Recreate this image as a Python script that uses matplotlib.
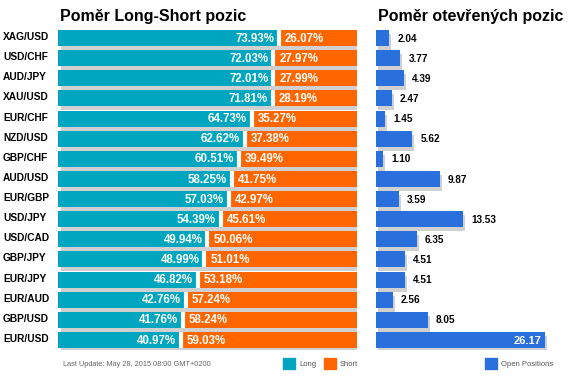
import matplotlib
matplotlib.use("Agg")
import matplotlib.pyplot as plt
from matplotlib.transforms import ScaledTranslation
from matplotlib.patches import Rectangle

pairs = ["XAG/USD", "USD/CHF", "AUD/JPY", "XAU/USD", "EUR/CHF", "NZD/USD", "GBP/CHF",
         "AUD/USD", "EUR/GBP", "USD/JPY", "USD/CAD", "GBP/JPY", "EUR/JPY", "EUR/AUD",
         "GBP/USD", "EUR/USD"]
long_pct = [73.93, 72.03, 72.01, 71.81, 64.73, 62.62, 60.51, 58.25, 57.03, 54.39,
            49.94, 48.99, 46.82, 42.76, 41.76, 40.97]
short_pct = [26.07, 27.97, 27.99, 28.19, 35.27, 37.38, 39.49, 41.75, 42.97, 45.61,
             50.06, 51.01, 53.18, 57.24, 58.24, 59.03]
open_pos = [2.04, 3.77, 4.39, 2.47, 1.45, 5.62, 1.10, 9.87, 3.59, 13.53, 6.35, 4.51,
            4.51, 2.56, 8.05, 26.17]

TEAL = "#00A6BF"
ORANGE = "#FF6600"
BLUE = "#2A70DC"
SHADOW = "#D0D0D0"
FONT = "Liberation Sans"
plt.rcParams["font.family"] = [FONT, "DejaVu Sans"]

W, H = 577, 391
fig = plt.figure(figsize=(W / 100, H / 100), dpi=100)

def px_axes(x0, y0, x1, y1):
    return fig.add_axes([x0 / W, 1 - y1 / H, (x1 - x0) / W, (y1 - y0) / H])

top, bottom = 28, 350
n = len(pairs)
ys = list(range(n))
bh = 0.8

# Left panel
ax = px_axes(58, top, 357, bottom)
ax.set_xlim(0, 100)
ax.set_ylim(n - 0.5, -0.5)
ax.axis("off")
sh = ax.transData + ScaledTranslation(3 / 100, -4 / 100, fig.dpi_scale_trans)
totals = [l + s for l, s in zip(long_pct, short_pct)]
ax.barh(ys, totals, height=bh, color=SHADOW, transform=sh, zorder=1)
ax.barh(ys, long_pct, height=bh, color=TEAL, linewidth=0, zorder=2)
ax.barh(ys, short_pct, left=long_pct, height=bh, color=ORANGE, zorder=2)
for i, (l, s) in enumerate(zip(long_pct, short_pct)):
    ax.plot([l, l], [i - bh / 2, i + bh / 2], color="white", lw=3, solid_capstyle="butt", zorder=3)
    off_l = ax.transData + ScaledTranslation(-5 / 100, 0, fig.dpi_scale_trans)
    off_r = ax.transData + ScaledTranslation(6 / 100, 0, fig.dpi_scale_trans)
    ax.text(l, i + 0.03, f"{l:.2f}%", transform=off_l, ha="right", va="center",
            color="white", fontsize=8.3, fontweight="bold", zorder=4)
    ax.text(l, i + 0.03, f"{s:.2f}%", transform=off_r, ha="left", va="center",
            color="white", fontsize=8.3, fontweight="bold", zorder=4)
    ax.text(-55 / 299 * 100, i - 0.05, pairs[i], ha="left", va="center",
            fontsize=7.3, fontweight="bold", color="black", clip_on=False)

# Right panel
ax2 = px_axes(376, top, 376 + 6.46 * 30, bottom)
ax2.set_xlim(0, 30)
ax2.set_ylim(n - 0.5, -0.5)
ax2.axis("off")
sh2 = ax2.transData + ScaledTranslation(2 / 100, -4 / 100, fig.dpi_scale_trans)
ax2.barh(ys, open_pos, height=bh, color=SHADOW, transform=sh2, zorder=1)
ax2.barh(ys, open_pos, height=bh, color=BLUE, zorder=2)
for i, v in enumerate(open_pos):
    if v > 20:
        t = ax2.transData + ScaledTranslation(-4 / 100, 0, fig.dpi_scale_trans)
        ax2.text(v, i + 0.03, f"{v:.2f}", transform=t, ha="right", va="center",
                 color="white", fontsize=8, fontweight="bold", zorder=4)
    else:
        t = ax2.transData + ScaledTranslation(8 / 100, 0, fig.dpi_scale_trans)
        ax2.text(v, i + 0.03, f"{v:.2f}", transform=t, ha="left", va="center",
                 color="black", fontsize=7.2, fontweight="bold", zorder=4)

# Titles
fig.text(60 / W, 1 - 17 / H, "Poměr Long-Short pozic", fontsize=11.5, fontweight="bold",
         ha="left", va="center")
fig.text(378 / W, 1 - 17 / H, "Poměr otevřených pozic", fontsize=11.5, fontweight="bold",
         ha="left", va="center")

# Footer
fig.text(63 / W, 1 - 364 / H, "Last Update: May 28, 2015 08:00 GMT+0200", fontsize=5.35,
         color="#666666", ha="left", va="center")
def legend_item(x, color, label):
    fig.patches.append(Rectangle((x / W, 1 - 369 / H), 12 / W, 11 / H, color=color,
                                 transform=fig.transFigure, figure=fig))
    fig.text((x + 16) / W, 1 - 364 / H, label, fontsize=5.5, color="#555555",
             ha="left", va="center")
legend_item(283, TEAL, "Long")
legend_item(324, ORANGE, "Short")
legend_item(485, BLUE, "Open Positions")

fig.savefig("out.png", dpi=100)
